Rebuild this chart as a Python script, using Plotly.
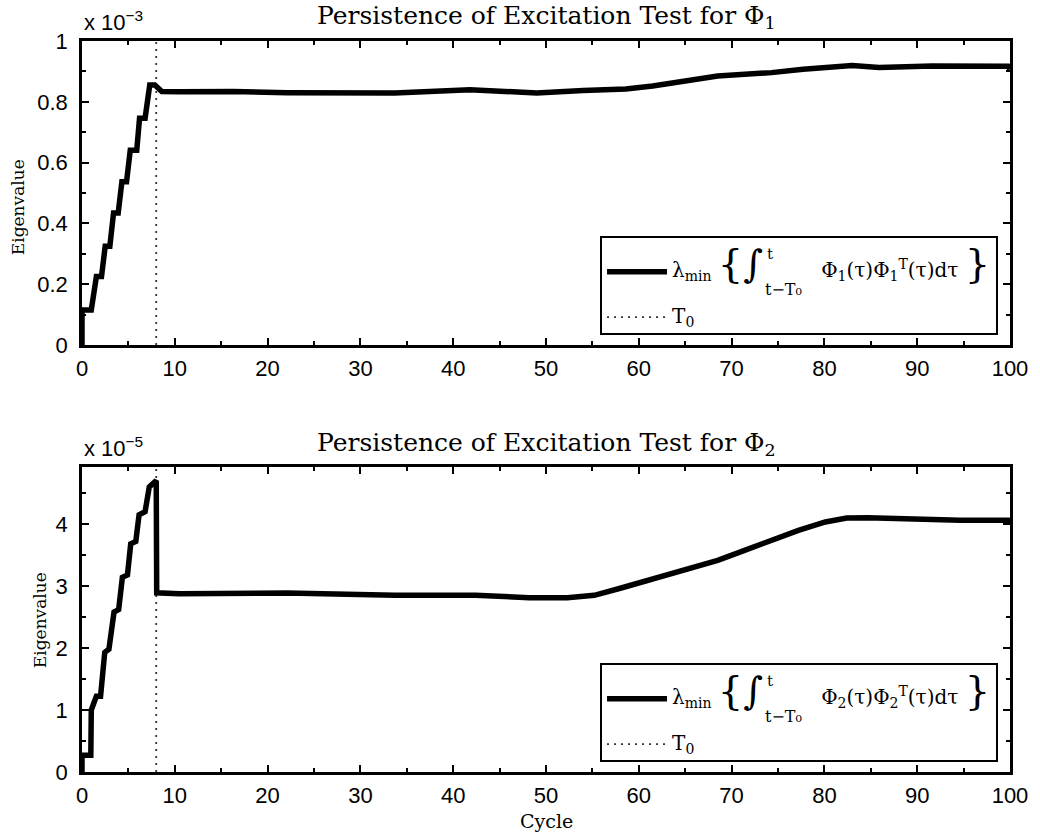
import plotly.graph_objects as go

# ---------------- data ----------------
# Phi_1 minimum eigenvalue, units of 1e-3
cycle_phi1 = [0, 0, 1.0, 1.55, 2.1, 2.5, 3.0, 3.4, 3.9, 4.3, 4.8, 5.2, 5.9, 6.2, 6.8, 7.3,
              7.85, 8.6, 10.5, 16.3, 22.1, 27.9, 33.7, 41.8, 49.0, 54.0, 58.6, 61.5, 65.6,
              68.5, 74.3, 77.7, 83.0, 85.9, 91.6, 99.8, 100]
eig_phi1 = [0, 0.115, 0.115, 0.225, 0.225, 0.325, 0.325, 0.434, 0.434, 0.537, 0.537, 0.641,
            0.641, 0.746, 0.746, 0.855, 0.855, 0.834, 0.833, 0.834, 0.830, 0.828, 0.829,
            0.840, 0.829, 0.837, 0.842, 0.852, 0.869, 0.885, 0.896, 0.907, 0.919, 0.913,
            0.918, 0.917, 0.907]

# Phi_2 minimum eigenvalue, units of 1e-5
cycle_phi2 = [0, 0, 0.95, 1.0, 1.55, 2.0, 2.45, 2.9, 3.45, 3.95, 4.35, 4.9, 5.25, 5.8, 6.15,
              6.8, 7.25, 7.85, 8.0, 8.05, 10.5, 22.1, 33.7, 42.4, 48.2, 52.3, 55.2, 58.1,
              61.5, 65.6, 68.5, 71.4, 74.3, 77.2, 80.1, 82.4, 84.7, 88.8, 94.6, 99.8, 100]
eig_phi2 = [0, 0.27, 0.27, 1.0, 1.22, 1.22, 1.93, 1.98, 2.58, 2.62, 3.14, 3.18, 3.68, 3.72,
            4.15, 4.2, 4.6, 4.7, 4.7, 2.89, 2.877, 2.888, 2.85, 2.85, 2.812, 2.812, 2.85,
            2.968, 3.119, 3.28, 3.415, 3.576, 3.737, 3.898, 4.033, 4.097, 4.103, 4.076,
            4.06, 4.06, 4.017]

T0 = 8
yrange_phi1 = [0, 1.0]
yrange_phi2 = [0, 4.92]
x_ticks = list(range(0, 101, 10))

titles = ["Persistence of Excitation Test for Φ<sub>1</sub>",
          "Persistence of Excitation Test for Φ<sub>2</sub>"]
exponents = ["x 10<sup>−3</sup>", "x 10<sup>−5</sup>"]


def sp(px):
    # horizontal gap of px pixels (an em space at that font size)
    return '<span style="font-size:%dpx">\u2003</span>' % px


def legend_label(k):
    upper = sp(95) + '<span style="font-size:15px">t</span>'
    main = ('<span style="font-size:20px">λ<sub>min</sub> </span>'
            '<span style="font-size:40px">{</span>'
            '<span style="font-size:38px">∫</span>' + sp(58) +
            '<span style="font-size:20px">Φ<sub>%d</sub>(τ)Φ<sub>%d</sub><sup>T</sup>(τ)dτ </span>'
            '<span style="font-size:40px">}</span>') % (k, k)
    lower = sp(93) + '<span style="font-size:16px">t−T₀</span>'
    return upper + "<br>" + main + "<br>" + lower


legend_names = [legend_label(1), legend_label(2)]
t0_name = '<span style="font-size:20px">T<sub>0</sub></span>'

SERIF = "DejaVu Serif"
SANS = "Liberation Sans"

fig = go.Figure()

for i, (cx, cy, yr) in enumerate([(cycle_phi1, eig_phi1, yrange_phi1),
                                  (cycle_phi2, eig_phi2, yrange_phi2)]):
    xa = "x" if i == 0 else "x2"
    ya = "y" if i == 0 else "y2"
    lg = "legend" if i == 0 else "legend2"
    fig.add_trace(go.Scatter(x=[T0, T0], y=yr, mode="lines", xaxis=xa, yaxis=ya,
                             line=dict(color="#333333", width=1.8, dash="2px,5px"),
                             name=t0_name, legend=lg, legendrank=2,
                             legendgroup="t0_%d" % i))
    fig.add_trace(go.Scatter(x=cx, y=cy, mode="lines", xaxis=xa, yaxis=ya,
                             line=dict(color="black", width=5.5),
                             name=legend_names[i], legend=lg, legendrank=1,
                             legendgroup="eig_%d" % i))

axis_common = dict(showline=True, linecolor="black", linewidth=2.5, mirror="ticks",
                   ticks="inside", ticklen=7, tickwidth=1.5, tickcolor="black",
                   showgrid=False, zeroline=False,
                   tickfont=dict(family=SANS, size=22, color="black"))

top_dom = [1 - 304 / 731, 1]
bot_dom = [0, 305 / 731]

legend_common = dict(xanchor="right", yanchor="bottom", bordercolor="black", borderwidth=2,
                     bgcolor="white", itemwidth=60, tracegroupgap=6,
                     font=dict(family=SERIF, size=14, color="black"))

fig.update_layout(
    width=1040, height=840,
    margin=dict(l=82, r=27, t=41, b=68),
    paper_bgcolor="white", plot_bgcolor="white",
    xaxis=dict(axis_common, range=[0, 100], tickvals=x_ticks, anchor="y",
               minor=dict(dtick=5, ticklen=4, tickwidth=1.5, ticks="inside", tickcolor="black"),
               ticklabelstandoff=2),
    yaxis=dict(axis_common, range=yrange_phi1, dtick=0.2, domain=top_dom, anchor="x",
               minor=dict(dtick=0.1, ticklen=4, tickwidth=1.5, ticks="inside", tickcolor="black"),
               ticklabelstandoff=7),
    xaxis2=dict(axis_common, range=[0, 100], tickvals=x_ticks, anchor="y2",
                minor=dict(dtick=5, ticklen=4, tickwidth=1.5, ticks="inside", tickcolor="black"),
                ticklabelstandoff=2),
    yaxis2=dict(axis_common, range=yrange_phi2, dtick=1, domain=bot_dom, anchor="x2",
                minor=dict(dtick=0.5, ticklen=4, tickwidth=1.5, ticks="inside", tickcolor="black"),
                ticklabelstandoff=7),
    legend=dict(legend_common, x=(1001 - 82) / 931, y=(772 - 335) / 731),
    legend2=dict(legend_common, x=(1001 - 82) / 931, y=(772 - 762) / 731),
    showlegend=True,
)


def py(px):
    return (772 - px) / 731


annots = []
# titles
annots.append(dict(text=titles[0], x=0.5, y=py(17), xref="paper", yref="paper",
                   xanchor="center", yanchor="middle", showarrow=False,
                   font=dict(family=SERIF, size=25, color="black")))
annots.append(dict(text=titles[1], x=0.5, y=py(444), xref="paper", yref="paper",
                   xanchor="center", yanchor="middle", showarrow=False,
                   font=dict(family=SERIF, size=25, color="black")))
# exponent labels
annots.append(dict(text=exponents[0], x=0, y=py(37), xref="paper", yref="paper",
                   xanchor="left", yanchor="bottom", showarrow=False,
                   font=dict(family=SANS, size=22, color="black")))
annots.append(dict(text=exponents[1], x=0, y=py(463), xref="paper", yref="paper",
                   xanchor="left", yanchor="bottom", showarrow=False,
                   font=dict(family=SANS, size=22, color="black")))
# y labels
annots.append(dict(text="Eigenvalue", x=(18 - 82) / 931, y=py(207), xref="paper", yref="paper",
                   xanchor="center", yanchor="middle", textangle=-90, showarrow=False,
                   font=dict(family=SERIF, size=17, color="black")))
annots.append(dict(text="Eigenvalue", x=(40 - 82) / 931, y=py(620), xref="paper", yref="paper",
                   xanchor="center", yanchor="middle", textangle=-90, showarrow=False,
                   font=dict(family=SERIF, size=17, color="black")))
# x label
annots.append(dict(text="Cycle", x=0.5, y=py(821), xref="paper", yref="paper",
                   xanchor="center", yanchor="middle", showarrow=False,
                   font=dict(family=SERIF, size=19, color="black")))
fig.update_layout(annotations=annots)

fig.write_html("out.html")
